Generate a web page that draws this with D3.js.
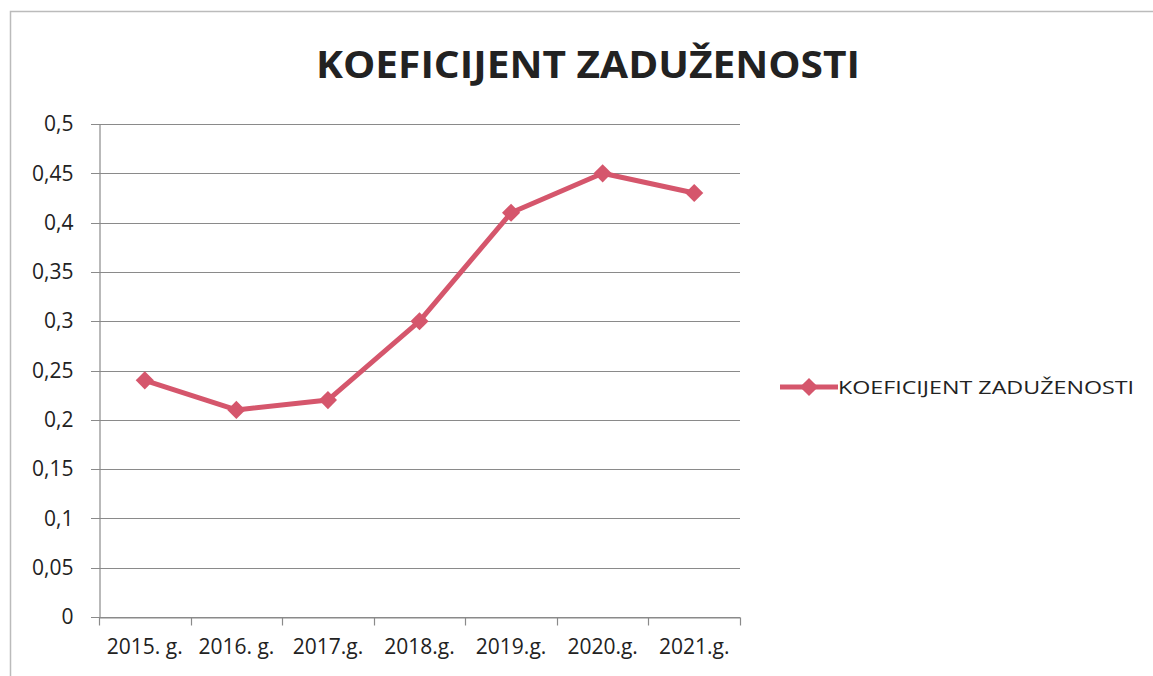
<!DOCTYPE html>
<html>
<head>
<meta charset="utf-8">
<script src="https://cdn.jsdelivr.net/npm/d3@7"></script>
<style>
body { margin: 0; background: #fff; }
text { font-family: "Open Sans", "DejaVu Sans", sans-serif; fill: #222; }
</style>
</head>
<body>
<script>
let width = 1153
let height = 676

let title = "KOEFICIJENT ZADUŽENOSTI"
let seriesName = "KOEFICIJENT ZADUŽENOSTI"
let years = ["2015. g.", "2016. g.", "2017.g.", "2018.g.", "2019.g.", "2020.g.", "2021.g."]
let values = [0.24, 0.21, 0.22, 0.30, 0.41, 0.45, 0.43]
let yTicks = [0, 0.05, 0.1, 0.15, 0.2, 0.25, 0.3, 0.35, 0.4, 0.45, 0.5]

let lineColor = "#d5566c"

let svg = d3.select("body")
.append("svg")
.attr("width", width)
.attr("height", height)

// outer chart frame (cropped on right and bottom)
svg.append("path")
.attr("d", "M10.5," + height + " V11.5 H" + width)
.attr("fill", "none")
.attr("stroke", "#bbb")
.attr("stroke-width", 1.5)

//scales
let x = d3.scaleBand()
.domain(years)
.range([99, 740])

let y = d3.scaleLinear()
.domain([0, 0.5])
.range([617, 124])

// gridlines
svg.append("g")
.selectAll("line")
.data(yTicks)
.enter()
.append("line")
.attr("x1", 91)
.attr("x2", 740)
.attr("y1", d => Math.round(y(d)) + 0.5)
.attr("y2", d => Math.round(y(d)) + 0.5)
.attr("stroke", "#8a8a8a")
.attr("stroke-width", 1.2)

// y axis
let yAxis = d3.axisLeft(y)
.tickValues(yTicks)
.tickSize(0)
.tickPadding(26)
.tickFormat(d => String(d).replace(".", ","))

let gy = svg.append("g")
.attr("transform", "translate(99.5,0)")
.call(yAxis)
gy.select(".domain").attr("stroke", "#8a8a8a").attr("stroke-width", 1.2)
gy.selectAll("text").style("font-size", "21px").attr("fill", "#333")

// x axis
let xAxis = d3.axisBottom(x)
.tickSize(0)
.tickPadding(22)

let gx = svg.append("g")
.attr("transform", "translate(0," + (Math.round(y(0)) + 0.5) + ")")
.call(xAxis)
gx.select(".domain").attr("stroke", "#8a8a8a").attr("stroke-width", 1.2)
gx.selectAll("text").style("font-size", "21px").attr("fill", "#333")

// category boundary ticks
gx.selectAll(".bound")
.data(years.map(d => x(d)).concat([x.range()[1]]))
.enter()
.append("line")
.attr("class", "bound")
.attr("x1", d => Math.round(d) + 0.5)
.attr("x2", d => Math.round(d) + 0.5)
.attr("y1", 0)
.attr("y2", 8)
.attr("stroke", "#8a8a8a")
.attr("stroke-width", 1.2)

// line
let line = d3.line()
.x((d, i) => x(years[i]) + x.bandwidth() / 2)
.y(d => y(d))

svg.append("path")
.datum(values)
.attr("d", line)
.attr("fill", "none")
.attr("stroke", lineColor)
.attr("stroke-width", 5)
.attr("stroke-linejoin", "round")

let diamond = d3.symbol().type(d3.symbolDiamond2 || d3.symbolDiamond).size(210)

svg.append("g")
.selectAll("path")
.data(values)
.enter()
.append("path")
.attr("d", diamond)
.attr("transform", (d, i) => "translate(" + (x(years[i]) + x.bandwidth() / 2) + "," + y(d) + ")")
.attr("fill", lineColor)

// title
svg.append("text")
.attr("x", 588)
.attr("y", 78)
.attr("text-anchor", "middle")
.style("font-size", "37px")
.style("font-weight", "bold")
.attr("fill", "#111")
.attr("textLength", 544)
.attr("lengthAdjust", "spacingAndGlyphs")
.text(title)

// legend
let lg = svg.append("g").attr("transform", "translate(780,387)")
lg.append("line")
.attr("x1", 0)
.attr("x2", 58)
.attr("stroke", lineColor)
.attr("stroke-width", 5)
lg.append("path")
.attr("d", diamond)
.attr("transform", "translate(29,0)")
.attr("fill", lineColor)
lg.append("text")
.attr("x", 58)
.attr("y", 7)
.style("font-size", "19px")
.attr("fill", "#222")
.attr("textLength", 296)
.attr("lengthAdjust", "spacingAndGlyphs")
.text(seriesName)
</script>
</body>
</html>
